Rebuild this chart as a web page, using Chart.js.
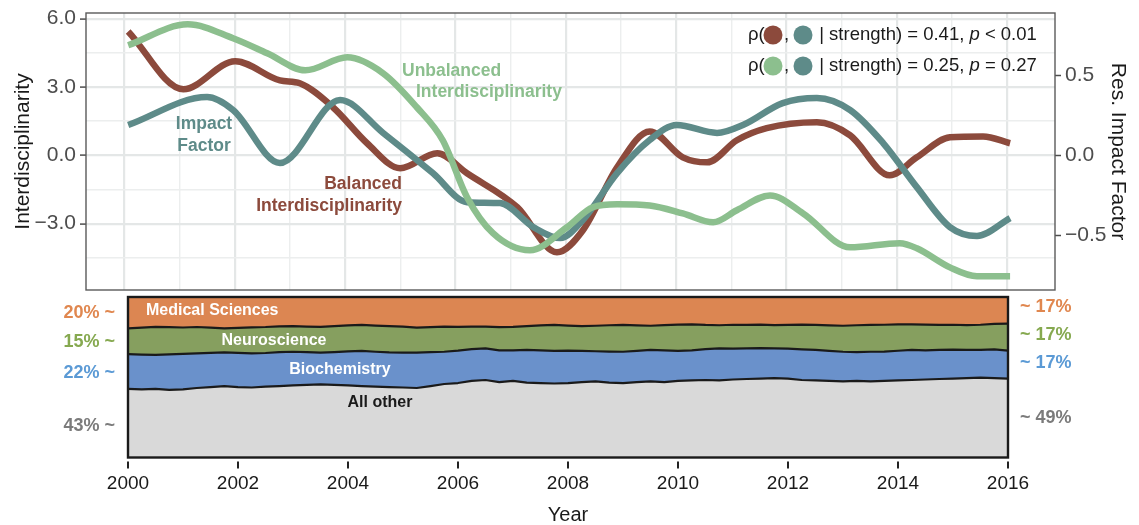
<!DOCTYPE html>
<html>
<head>
<meta charset="utf-8">
<script src="https://cdn.jsdelivr.net/npm/chart.js@4.4.1/dist/chart.umd.min.js"></script>
<style>
  html, body { margin: 0; padding: 0; background: #fff; overflow: hidden; }
  #wrap { position: relative; width: 1139px; height: 525px; }
  #top { position: absolute; left: 0; top: 0; }
  #bottom { position: absolute; left: 0; top: 292px; }
</style>
</head>
<body>
<div id="wrap">
  <canvas id="top" width="1139" height="292"></canvas>
  <canvas id="bottom" width="1139" height="233"></canvas>
</div>
<script>
// ---- Smoothed yearly trends (upper panel) ----
const balancedYears  = [2000.07, 2001.07, 2002.01, 2002.82, 2003.18, 2003.78, 2004.40, 2005.00, 2005.67, 2006.21, 2007.12, 2007.84, 2008.31, 2008.93, 2009.52, 2010.12, 2010.56, 2011.10, 2011.64, 2012.55, 2013.15, 2013.87, 2014.36, 2014.96, 2015.56, 2016.05];
const balancedValues = [5.44, 2.90, 4.13, 3.29, 3.16, 2.11, 0.53, -0.57, 0.09, -0.79, -2.28, -4.26, -3.29, -0.53, 1.05, -0.09, -0.31, 0.66, 1.19, 1.45, 0.88, -0.88, -0.09, 0.79, 0.83, 0.53];

const unbalancedYears  = [2000.07, 2001.15, 2001.97, 2002.59, 2003.28, 2004.04, 2004.69, 2005.30, 2005.77, 2006.21, 2006.68, 2007.35, 2008.02, 2008.49, 2008.93, 2009.52, 2010.12, 2010.67, 2011.10, 2011.70, 2012.30, 2013.15, 2014.05, 2014.36, 2014.96, 2015.45, 2016.05];
const unbalancedValues = [4.83, 5.75, 5.14, 4.48, 3.73, 4.30, 3.60, 2.11, 0.66, -1.84, -3.42, -4.17, -3.16, -2.28, -2.15, -2.20, -2.55, -2.94, -2.41, -1.76, -2.55, -4.04, -3.86, -4.08, -4.92, -5.31, -5.31];

const impactYears  = [2000.07, 2001.50, 2001.97, 2002.82, 2003.91, 2004.69, 2005.59, 2006.21, 2006.81, 2007.41, 2007.90, 2008.31, 2008.93, 2009.52, 2010.01, 2010.74, 2011.21, 2011.93, 2012.55, 2013.15, 2013.75, 2014.36, 2014.96, 2015.45, 2016.05];
const impactValues = [0.190, 0.365, 0.284, -0.048, 0.346, 0.140, -0.111, -0.293, -0.299, -0.449, -0.518, -0.405, -0.111, 0.096, 0.190, 0.140, 0.190, 0.327, 0.359, 0.284, 0.077, -0.199, -0.449, -0.505, -0.393];

// ---- Quarterly field shares, % (lower panel) ----
const shareYears = Array.from({ length: 65 }, (_, i) => 2000 + i / 4);
const otherShare = [
  42.7, 42.4, 42.8, 42.1, 42.4, 43.3, 43.9, 44.5, 43.9, 43.6,
  44.2, 44.5, 44.9, 45.2, 45.5, 45.2, 44.9, 44.5, 44.2, 43.9,
  43.6, 43.3, 44.5, 45.8, 46.4, 47.7, 48.3, 47.0, 47.7, 46.7,
  46.4, 46.1, 46.4, 47.0, 47.4, 46.7, 46.4, 47.0, 47.4, 47.0,
  47.7, 48.0, 48.3, 48.0, 48.6, 48.9, 49.2, 49.5, 49.2, 48.3,
  48.0, 47.7, 47.4, 47.7, 47.4, 47.7, 48.0, 48.3, 48.6, 48.9,
  49.2, 49.5, 49.8, 49.5, 49.1];
const biochemShare = [
  21.7, 21.7, 21.1, 22.2, 22.2, 21.6, 21.3, 21.0, 21.3, 21.3,
  20.9, 21.1, 21.0, 20.4, 19.8, 20.5, 21.2, 21.9, 21.7, 21.6,
  21.7, 22.1, 21.1, 20.1, 20.2, 19.8, 19.7, 19.7, 19.1, 20.3,
  20.3, 20.3, 20.2, 19.4, 18.8, 19.3, 19.5, 19.4, 19.6, 19.7,
  18.7, 18.8, 19.2, 20.0, 19.2, 19.1, 19.0, 18.5, 18.6, 19.1,
  19.0, 18.7, 18.5, 18.0, 18.5, 18.3, 18.5, 18.7, 18.2, 18.1,
  18.0, 17.5, 17.3, 17.9, 17.5];
const neuroShare = [
  16.0, 16.8, 17.5, 16.9, 16.4, 16.4, 15.7, 15.0, 15.6, 16.2,
  16.2, 16.1, 16.0, 16.0, 16.1, 16.1, 16.2, 16.2, 16.3, 16.4,
  16.2, 15.5, 15.6, 15.7, 14.8, 14.1, 13.5, 14.5, 14.6, 14.9,
  15.6, 16.2, 15.6, 15.5, 15.9, 16.4, 16.7, 15.9, 15.1, 15.8,
  16.4, 16.2, 15.1, 14.4, 14.9, 14.6, 14.6, 14.5, 14.8, 15.4,
  15.6, 15.9, 16.2, 16.7, 16.7, 16.7, 16.4, 16.0, 16.0, 15.6,
  15.5, 15.5, 15.6, 15.9, 16.8];
const medicalShare = [
  19.6, 19.1, 18.6, 18.8, 19.0, 18.7, 19.1, 19.5, 19.2, 18.9,
  18.7, 18.3, 18.1, 18.4, 18.6, 18.2, 17.7, 17.4, 17.8, 18.1,
  18.5, 19.1, 18.8, 18.4, 18.6, 18.4, 18.5, 18.8, 18.6, 18.1,
  17.7, 17.4, 17.8, 18.1, 17.9, 17.6, 17.4, 17.7, 17.9, 17.5,
  17.2, 17.0, 17.4, 17.6, 17.3, 17.4, 17.2, 17.5, 17.4, 17.2,
  17.4, 17.7, 17.9, 17.6, 17.4, 17.3, 17.1, 17.0, 17.2, 17.4,
  17.3, 17.5, 17.3, 16.7, 16.6];

// ---- Tick labels ----
const yearTicks = [2000, 2002, 2004, 2006, 2008, 2010, 2012, 2014, 2016];
const shareStartLabels = ['20% ~', '15% ~', '22% ~', '43% ~'];
const shareEndLabels = ['~ 17%', '~ 17%', '~ 17%', '~ 49%'];

// ---- Styling ----
const FONT = '"Liberation Sans", Arial, Helvetica, sans-serif';
Chart.defaults.font.family = FONT;
const BROWN = '#8c4a3c';
const GREEN = '#8cbf8e';
const TEAL = '#5e8b89';
const INK = '#1a1a1a';
const AXIS_GREY = '#4d4d4d';
const GRID_MAJOR = '#e4e7e7';
const GRID_MINOR = '#eceeee';
const FILL = { other: '#d9d9d9', bio: '#6a91cb', neuro: '#869f5f', med: '#dc8652' };
const SIDE = ['#e0874f', '#86a950', '#5b9ad5', '#7b7b7b'];

const minus = s => s.replace('-', '\u2212');
const isMultiple = (v, step) => Math.abs(v / step - Math.round(v / step)) < 1e-6;
const pts = (xs, ys) => xs.map((x, i) => ({ x, y: ys[i] }));
// keep the plot area fixed: no extra room for half-labels at the ends
const fixWidth = w => s => { s.width = w; s.paddingTop = 0; s.paddingBottom = 0; };

// ---------- Upper panel ----------
const topDecor = {
  id: 'topDecor',
  afterDraw(chart) {
    const c = chart.ctx, a = chart.chartArea;
    c.save();
    // panel frame
    c.strokeStyle = '#5a5a5a';
    c.lineWidth = 1.4;
    c.strokeRect(a.left, a.top, a.right - a.left, a.bottom - a.top);

    // series labels
    c.font = 'bold 17.5px ' + FONT;
    c.textBaseline = 'middle';
    c.fillStyle = TEAL; c.textAlign = 'center';
    c.fillText('Impact', 204, 124);
    c.fillText('Factor', 204, 146);
    c.fillStyle = BROWN; c.textAlign = 'right';
    c.fillText('Balanced', 402, 184);
    c.fillText('Interdisciplinarity', 402, 206);
    c.fillStyle = GREEN; c.textAlign = 'left';
    c.fillText('Unbalanced', 402, 71);
    c.fillText('Interdisciplinarity', 416, 92);

    // partial correlations
    const legFont = '18.5px ' + FONT;
    const dot = (x, y, col) => { c.beginPath(); c.arc(x, y, 9.5, 0, Math.PI * 2); c.fillStyle = col; c.fill(); };
    const row = (y, col, stat, pRel) => {
      c.font = legFont; c.fillStyle = INK; c.textAlign = 'left';
      c.fillText('\u03c1(', 748, y);
      dot(773, y, col);
      c.fillStyle = INK; c.fillText(',', 784, y);
      dot(803, y, TEAL);
      c.fillStyle = INK;
      let x = 814;
      c.fillText(stat, x, y); x += c.measureText(stat).width;
      c.font = 'italic ' + legFont; c.fillText('p', x, y); x += c.measureText('p').width;
      c.font = legFont; c.fillText(pRel, x, y);
    };
    row(35, BROWN, ' | strength) = 0.41, ', ' < 0.01');
    row(66, GREEN, ' | strength) = 0.25, ', ' = 0.27');
    c.restore();
  }
};

new Chart(document.getElementById('top'), {
  type: 'line',
  data: {
    datasets: [
      { label: 'Unbalanced Interdisciplinarity', data: pts(unbalancedYears, unbalancedValues), borderColor: GREEN, yAxisID: 'y' },
      { label: 'Impact Factor', data: pts(impactYears, impactValues), borderColor: TEAL, yAxisID: 'y2' },
      { label: 'Balanced Interdisciplinarity', data: pts(balancedYears, balancedValues), borderColor: BROWN, yAxisID: 'y' }
    ]
  },
  options: {
    responsive: false,
    animation: false,
    events: [],
    layout: { padding: { top: 13, left: 0, right: 0, bottom: 0 } },
    elements: {
      point: { radius: 0 },
      line: { borderWidth: 6.5, cubicInterpolationMode: 'monotone', fill: false, borderCapStyle: 'butt', borderJoinStyle: 'round' }
    },
    plugins: { legend: { display: false }, tooltip: { enabled: false } },
    scales: {
      x: {
        type: 'linear', min: 1999.306, max: 2016.864,
        ticks: { display: false, stepSize: 1, includeBounds: false },
        grid: {
          drawTicks: false,
          color: ctx => isMultiple(ctx.tick.value, 2) ? GRID_MAJOR : GRID_MINOR,
          lineWidth: ctx => isMultiple(ctx.tick.value, 2) ? 2.2 : 1.4
        },
        border: { display: false },
        afterFit(s) { s.height = 2; s.paddingLeft = 0; s.paddingRight = 0; }
      },
      y: {
        position: 'left', min: -5.913, max: 6.247,
        ticks: {
          stepSize: 1.5, includeBounds: false, padding: 4,
          color: AXIS_GREY, font: { size: 21 },
          callback: v => isMultiple(v, 3) ? minus(v.toFixed(1)) : ''
        },
        grid: {
          tickLength: 6, tickWidth: 1.5,
          tickColor: ctx => isMultiple(ctx.tick.value, 3) ? AXIS_GREY : 'rgba(0,0,0,0)',
          color: ctx => isMultiple(ctx.tick.value, 3) ? GRID_MAJOR : GRID_MINOR,
          lineWidth: ctx => isMultiple(ctx.tick.value, 3) ? 2.2 : 1.4
        },
        border: { display: false },
        title: { display: true, text: 'Interdisciplinarity', color: INK, font: { size: 21 }, padding: { top: 11, bottom: 0 } },
        afterFit: fixWidth(86)
      },
      y2: {
        position: 'right', min: -0.843, max: 0.891,
        ticks: {
          stepSize: 0.5, includeBounds: false, padding: 4,
          color: AXIS_GREY, font: { size: 21 },
          callback: v => minus(v.toFixed(1))
        },
        grid: { drawOnChartArea: false, tickLength: 6, tickWidth: 1.5, tickColor: AXIS_GREY },
        border: { display: false },
        title: { display: true, text: 'Res. Impact Factor', color: INK, font: { size: 21 }, padding: { top: 9, bottom: 0 } },
        afterFit: fixWidth(84)
      }
    }
  },
  plugins: [topDecor]
});

// ---------- Lower panel ----------
const bottomDecor = {
  id: 'bottomDecor',
  afterDraw(chart) {
    const c = chart.ctx, a = chart.chartArea, xs = chart.scales.x;
    c.save();
    // panel frame
    c.strokeStyle = INK;
    c.lineWidth = 2.4;
    c.strokeRect(a.left, a.top, a.right - a.left, a.bottom - a.top);
    // detached tick marks under the panel
    c.lineWidth = 2;
    c.strokeStyle = '#222';
    yearTicks.forEach(v => {
      const x = xs.getPixelForValue(v);
      c.beginPath(); c.moveTo(x, a.bottom + 4); c.lineTo(x, a.bottom + 11); c.stroke();
    });

    c.translate(0, -292);
    c.textBaseline = 'middle';
    // band names
    c.font = 'bold 16px ' + FONT;
    c.fillStyle = '#ffffff';
    c.textAlign = 'left';
    c.fillText('Medical Sciences', 146, 311);
    c.textAlign = 'center';
    c.fillText('Neuroscience', 274, 341);
    c.fillText('Biochemistry', 340, 370);
    c.fillStyle = INK;
    c.fillText('All other', 380, 403);

    // shares at both ends
    c.font = 'bold 18px ' + FONT;
    const startY = [313, 342, 373, 426];
    const endY = [307, 335, 363, 418];
    shareStartLabels.forEach((t, i) => { c.fillStyle = SIDE[i]; c.textAlign = 'right'; c.fillText(t, 115, startY[i]); });
    shareEndLabels.forEach((t, i) => { c.fillStyle = SIDE[i]; c.textAlign = 'left'; c.fillText(t, 1020, endY[i]); });
    c.restore();
  }
};

const band = (label, values, fill, color, border) => ({
  label, data: pts(shareYears, values), fill,
  backgroundColor: color,
  borderColor: border ? INK : 'rgba(0,0,0,0)',
  borderWidth: 2.2
});

new Chart(document.getElementById('bottom'), {
  type: 'line',
  data: {
    datasets: [
      band('All other', otherShare, 'origin', FILL.other, true),
      band('Biochemistry', biochemShare, '-1', FILL.bio, true),
      band('Neuroscience', neuroShare, '-1', FILL.neuro, true),
      band('Medical Sciences', medicalShare, '-1', FILL.med, false)
    ]
  },
  options: {
    responsive: false,
    animation: false,
    events: [],
    layout: { padding: { left: 128, right: 131, top: 5, bottom: 0 } },
    elements: { point: { radius: 0 }, line: { tension: 0, borderJoinStyle: 'round' } },
    plugins: { legend: { display: false }, tooltip: { enabled: false } },
    scales: {
      x: {
        type: 'linear', min: 2000, max: 2016,
        afterBuildTicks(s) { s.ticks = yearTicks.map(v => ({ value: v })); },
        ticks: { callback: v => String(v), color: INK, font: { size: 19 }, padding: 15, maxRotation: 0, autoSkip: false },
        grid: { display: false, drawTicks: false },
        border: { display: false },
        title: { display: true, text: 'Year', color: INK, font: { size: 20, lineHeight: 1 }, padding: 0 },
        afterFit(s) { s.height = 67.5; }
      },
      y: { stacked: true, min: 0, max: 100, display: false }
    }
  },
  plugins: [bottomDecor]
});
</script>
</body>
</html>
